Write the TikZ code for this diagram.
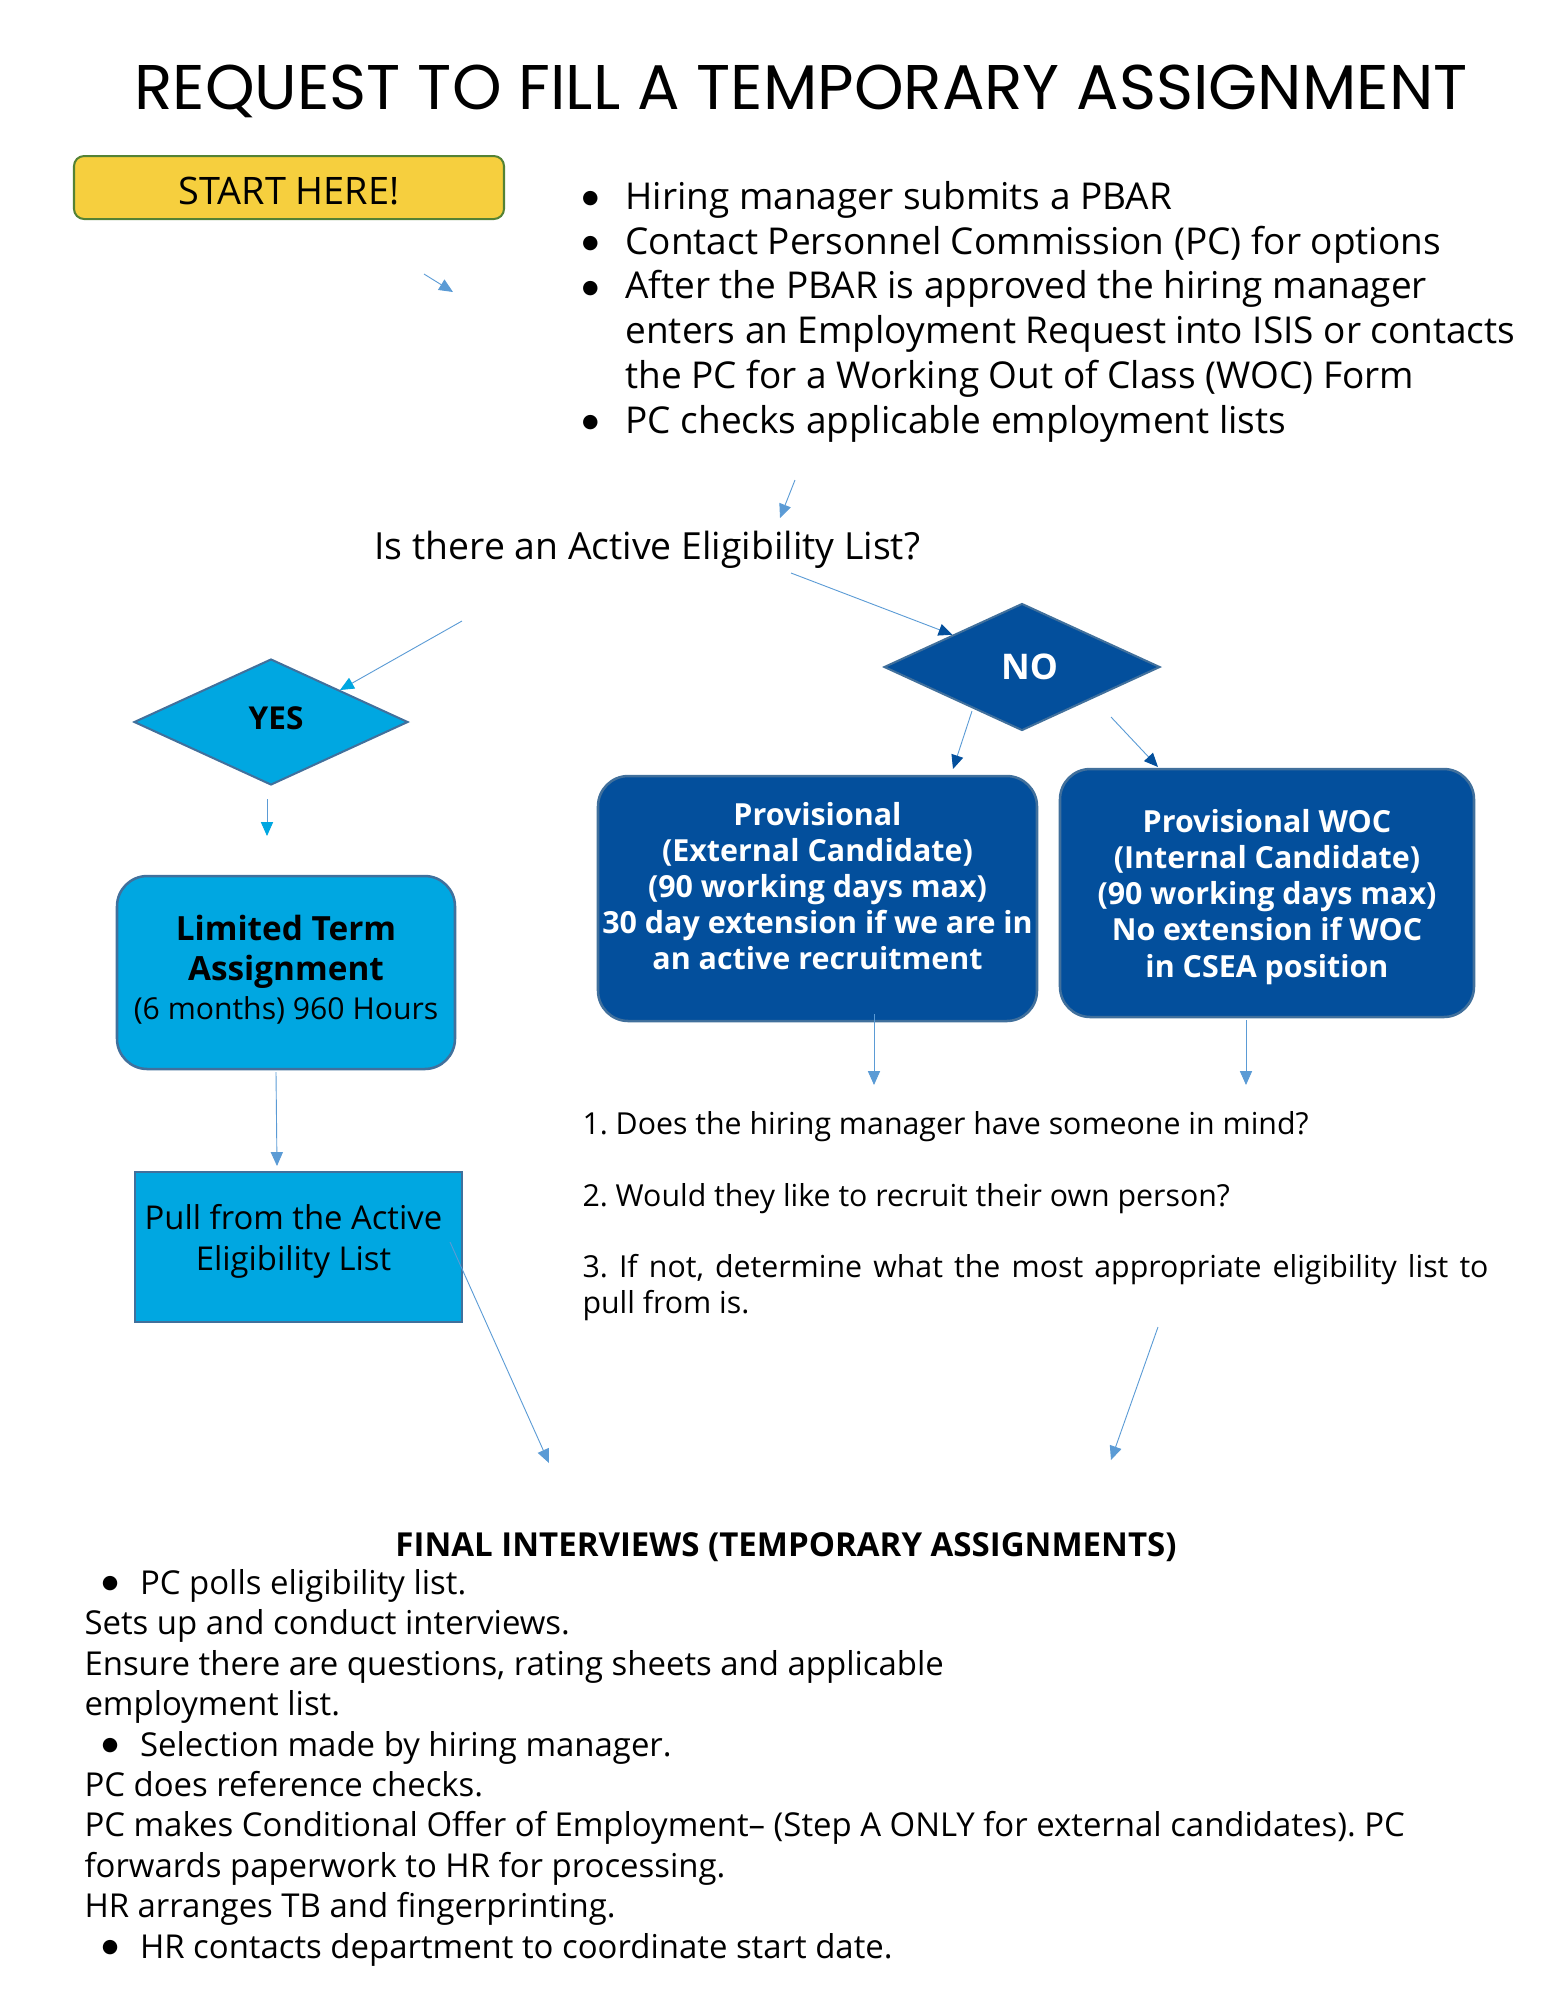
\documentclass[tikz,border=0pt]{standalone}
\usepackage{fontspec}
\setmainfont{Open Sans}
\newfontfamily\titlefont{Poppins}
\newfontfamily\symfont{DejaVu Sans}
\usetikzlibrary{shapes.geometric,arrows.meta,positioning}
\frenchspacing

\definecolor{startyellow}{HTML}{F6CF3E}
\definecolor{startgreen}{HTML}{548235}
\definecolor{lightfill}{HTML}{00A7E1}
\definecolor{darkfill}{HTML}{034F9C}
\definecolor{edgeblue}{HTML}{41709C}
\definecolor{linkblue}{HTML}{5B9BD5}

\newlength{\unitpx}
\setlength{\unitpx}{0.3961pt}
\newcommand{\bul}[1][10.6pt]{\makebox[0pt][r]{\raisebox{2.3pt}{\symfont\fontsize{7.5}{8}\selectfont ●}\hspace{#1}}}
\newcommand{\bigbold}[1]{{\fontsize{13.2}{15.6}\selectfont\bfseries #1}}

\begin{document}
\begin{tikzpicture}[
    x=0.3961pt, y=-0.3961pt,
    startbox/.style={rectangle, draw=startgreen, line width=0.8pt, fill=startyellow, rounded corners=4pt, minimum width=430\unitpx, minimum height=63\unitpx, text height=14pt, font=\fontsize{15}{18}\selectfont},
    decision/.style={diamond, draw=edgeblue, line width=0.8pt, inner sep=0pt, minimum width=274\unitpx, minimum height=126\unitpx},
    roundbox/.style={rectangle, draw=edgeblue, line width=1pt, rounded corners=12pt, align=center, inner sep=0pt},
    plaintxt/.style={inner sep=0pt, align=left},
    link/.style={draw=linkblue, line width=0.36pt, -{Triangle[length=5.5pt, width=4.8pt, color=#1]}},
    link/.default=linkblue
]
\useasboundingbox (0,0) rectangle (1545,2000);

% Title
\node[font=\titlefont\fontsize{25}{30}\selectfont] (title) at (801,91) {REQUEST TO FILL A TEMPORARY ASSIGNMENT};

% Start
\node[startbox] (start) at (289,187.5) {START HERE!};
\node[plaintxt, anchor=north west, font=\fontsize{14.65}{17.7}\selectfont] (steps) at (625,181) {%
    \bul Hiring manager submits a PBAR\\
    \bul Contact Personnel Commission (PC) for options\\
    \bul After the PBAR is approved the hiring manager\\
    enters an Employment Request into ISIS or contacts\\
    the PC for a Working Out of Class (WOC) Form\\
    \bul PC checks applicable employment lists};

\node[plaintxt, anchor=base west, font=\fontsize{14.8}{17.8}\selectfont] (question) at (374,559) {Is there an Active Eligibility List?};

% Decisions
\node[decision, fill=lightfill, text depth=3pt, font=\bfseries\fontsize{12.5}{15}\selectfont] (yes) at (271,722) {\hspace{4pt}YES};
\node[decision, fill=darkfill, text=white, minimum width=276\unitpx, minimum height=127\unitpx, font=\bfseries\fontsize{14}{17}\selectfont] (no) at (1022,667) {\hspace{6pt}NO};

% Boxes
\node[roundbox, fill=lightfill, minimum width=338\unitpx, minimum height=193\unitpx, font=\fontsize{11.95}{15.6}\selectfont] (limited) at (286,972.5)
    {\bigbold{Limited Term}\\ \bigbold{Assignment}\\ (6 months) 960 Hours\rule[-4pt]{0pt}{0pt}};
\node[roundbox, fill=darkfill, text=white, minimum width=439\unitpx, minimum height=245\unitpx, font=\bfseries\fontsize{12.05}{14.3}\selectfont] (external) at (817.5,898.5)
    {Provisional\\ (External Candidate)\\ (90 working days max)\\ 30 day extension if we are in\\ an active recruitment\rule[-10pt]{0pt}{0pt}};
\node[roundbox, fill=darkfill, text=white, minimum width=414\unitpx, minimum height=248\unitpx, font=\bfseries\fontsize{12.05}{14.3}\selectfont] (internal) at (1267,893)
    {\rule{0pt}{12.3pt}Provisional WOC\\ (Internal Candidate)\\ (90 working days max)\\ No extension if WOC\\ in CSEA position};
\node[rectangle, draw=edgeblue, line width=1pt, fill=lightfill, minimum width=327\unitpx, minimum height=150\unitpx, align=center, inner sep=0pt, font=\fontsize{13}{16.2}\selectfont] (pull) at (298.5,1247)
    {Pull from the Active\hspace*{4pt}\\ Eligibility List\hspace*{4pt}\rule[-7.5pt]{0pt}{0pt}};

\node[plaintxt, anchor=north west, font=\fontsize{12}{14.2}\selectfont] (questions) at (582,1111) {%
    1. Does the hiring manager have someone in mind?\\[14.2pt]
    2. Would they like to recruit their own person?\\[14.2pt]
    \makebox[906\unitpx][s]{3. If not, determine what the most appropriate eligibility list to}\\
    pull from is.};

% Final interviews
\node[anchor=base, inner sep=0pt, font=\bfseries\fontsize{13.08}{16}\selectfont] (final) at (786,1556) {FINAL INTERVIEWS (TEMPORARY ASSIGNMENTS)};
\node[plaintxt, anchor=north west, font=\fontsize{13.04}{16}\selectfont] (finalsteps) at (84,1569) {%
    \hspace*{22pt}\bul[8.6pt]PC polls eligibility list.\\
    Sets up and conduct interviews.\\
    Ensure there are questions, rating sheets and applicable\\
    employment list.\\
    \hspace*{22pt}\bul[8.6pt]Selection made by hiring manager.\\
    PC does reference checks.\\
    PC makes Conditional Offer of Employment– (Step A ONLY for external candidates). PC\\
    forwards paperwork to HR for processing.\\
    HR arranges TB and fingerprinting.\\
    \hspace*{22pt}\bul[8.6pt]HR contacts department to coordinate start date.};

% Arrow ends
\coordinate (a1) at (424,274);   \coordinate (b1) at (453,292);
\coordinate (a2) at (795,480);   \coordinate (b2) at (780,518);
\coordinate (a3) at (791,573);
\coordinate (a4) at (462,621);
\coordinate (a5) at (267,799);   \coordinate (b5) at (267,836);
\coordinate (a6) at (972,711);   \coordinate (b6) at (953,769);
\coordinate (a7) at (1111,717);  \coordinate (b7) at (1158,767);
\coordinate (a8) at (874,1014);  \coordinate (b8) at (874,1085);
\coordinate (a9) at (1246,1020); \coordinate (b9) at (1246,1085);
\coordinate (a10) at (276,1072); \coordinate (b10) at (277,1166);
\coordinate (a11) at (450,1242); \coordinate (b11) at (549,1463);
\coordinate (a12) at (1158,1327); \coordinate (b12) at (1111,1460);

% Arrows
\draw[link] (a1) -- (b1);
\draw[link] (a2) -- (b2);
\draw[link=darkfill] (a3) -- (no.north west);
\draw[link=lightfill] (a4) -- (yes.north east);
\draw[link=lightfill] (a5) -- (b5);
\draw[link=darkfill] (a6) -- (b6);
\draw[link=darkfill] (a7) -- (b7);
\draw[link] (a8) -- (b8);
\draw[link] (a9) -- (b9);
\draw[link] (a10) -- (b10);
\draw[link] (a11) -- (b11);
\draw[link] (a12) -- (b12);

\end{tikzpicture}
\end{document}
